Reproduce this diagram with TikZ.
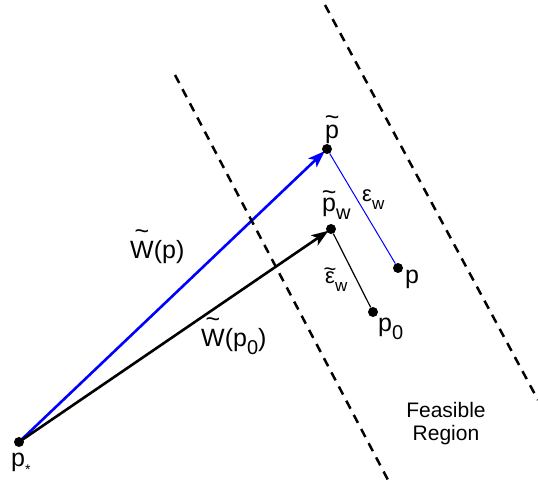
\documentclass[tikz,border=0pt]{standalone}
\usepackage{fontspec}
\setmainfont{Liberation Sans}
\usetikzlibrary{arrows.meta,backgrounds}
\definecolor{VecBlue}{RGB}{0,0,255}
\newcommand\lo[2][20]{\raisebox{-8pt}{\fontsize{#1}{#1}\selectfont #2}}
\newcommand\tld[2][12pt]{\leavevmode\setbox0\hbox{#2}\rlap{\hbox to\wd0{\hss\raisebox{#1}{\textasciitilde}\hss}}\box0}

\begin{document}
\begin{tikzpicture}[x=1pt,y=-1pt,
  dot/.style={circle,fill=black,inner sep=0pt,minimum size=10pt},
  lbl/.style={inner sep=0pt,anchor=base west,font=\fontsize{25}{27}\selectfont},
  small/.style={inner sep=0pt,anchor=base west,font=\fontsize{22}{24}\selectfont},
  bound/.style={line width=2.5pt,dash pattern=on 9pt off 7pt},
  vec/.style={line width=2.6pt,shorten >=3pt,-{Stealth[length=17pt,width=12pt,inset=4pt]}}]
\path[use as bounding box] (0,0) rectangle (538,485);
% boundaries of the region
\draw[bound] (175,75) -- (388,480);
\draw[bound] (325,5) -- (538,400);
% points
\node[dot] (pstar) at (19,442) {};
\node[dot] (ptil) at (327,149) {};
\node[dot] (ptilw) at (331,229) {};
\node[dot] (p) at (398,268) {};
\node[dot] (pzero) at (373,312) {};
% vectors and errors
\begin{scope}[on background layer]
\draw[vec,VecBlue] (pstar.center) -- (ptil.center);
\draw[vec] (pstar.center) -- (ptilw.center);
\draw[VecBlue,line width=1pt] (ptil) -- (p);
\draw[line width=1.2pt] (ptilw) -- (pzero);
\end{scope}
% labels
\node[lbl] (lptil) at (325,138) {\tld[13pt]{p}};
\node[lbl] (lptilw) at (322,211) {\tld[11pt]{p}\lo{w}};
\node[lbl] (lp) at (405,283) {p};
\node[lbl] (lpzero) at (378,331) {p\lo{0}};
\node[lbl] (lpstar) at (11,466) {p\lo[14]{*}};
\node[small] (leps) at (362,201.5) {ε\lo[17]{w}};
\node[small] (lepstil) at (325,283.5) {\tld[7pt]{ε}\lo[17]{w}};
\node[lbl] (lWp) at (130,258) {\tld[19pt]{W}(p)};
\node[lbl] (lWpzero) at (201,346) {\tld[19pt]{W}(p\lo{0})};
\node[align=center,inner sep=0pt,font=\fontsize{21}{23}\selectfont] (feas) at (446,424) {Feasible\\Region};
\end{tikzpicture}
\end{document}
